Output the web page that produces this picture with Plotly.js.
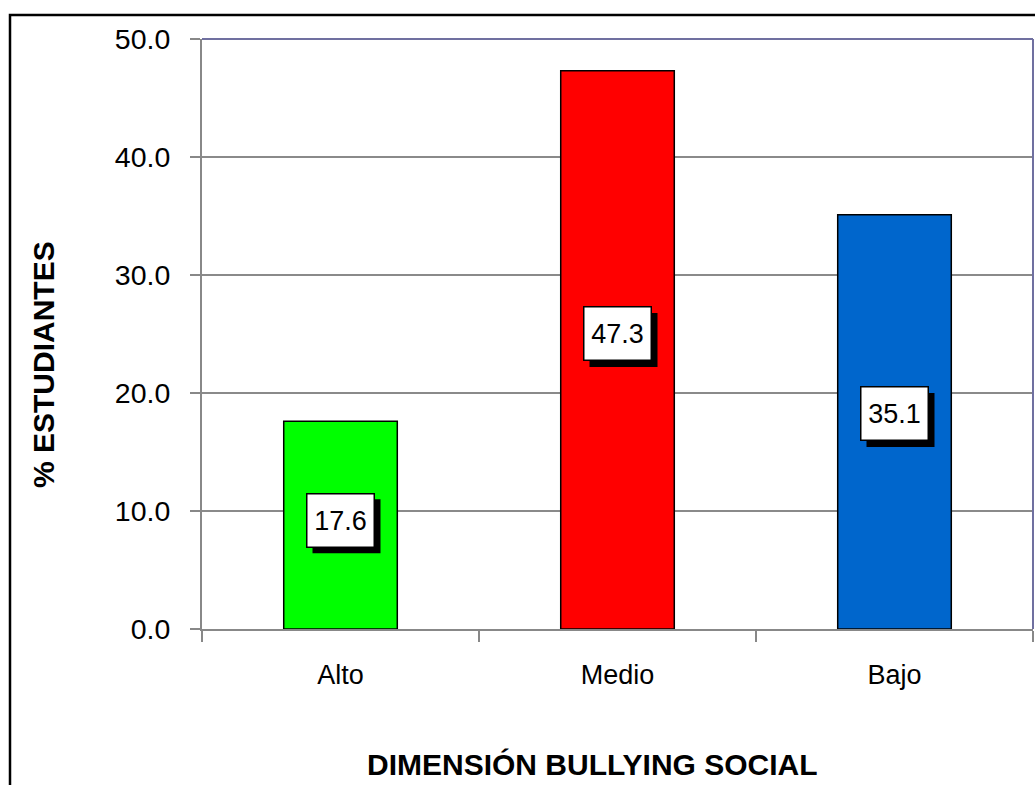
<!DOCTYPE html>
<html>
<head>
<meta charset="utf-8">
<script src="https://cdn.plot.ly/plotly-3.0.1.min.js"></script>
<style>html,body{margin:0;padding:0;background:#fff;}#chart{width:1035px;height:785px;}</style>
</head>
<body>
<div id="chart"></div>
<script>
// Data
const categories = ['Alto', 'Medio', 'Bajo'];
const values = [17.6, 47.3, 35.1];
const barColors = ['#00ff00', '#ff0000', '#0066cc'];
const yTickVals = [0, 10, 20, 30, 40, 50];
const yTitle = '% ESTUDIANTES';
const xTitle = 'DIMENSIÓN BULLYING SOCIAL';

// Layout geometry (style)
const W = 1035, H = 785;
const M = {l: 202, r: 2, t: 39, b: 156};
const pw = W - M.l - M.r, ph = H - M.t - M.b;
const px2x = p => (p - M.l) / pw;
const py2y = p => (H - M.b - p) / ph;
const font = 'Liberation Sans, Arial, sans-serif';
const labelShift = [5, 16, 8];
const boxW = 54, boxH = 40, boxPad = 6, shadowOff = 6;

const trace = {
  type: 'bar',
  x: categories,
  y: values,
  marker: {color: barColors, line: {color: '#000', width: 1.5}},
  hoverinfo: 'none'
};

const annotations = [];
const shapes = [
  {type: 'line', xref: 'paper', yref: 'paper', x0: 0, x1: 1, y0: 1, y1: 1,
   line: {color: '#7070a0', width: 2}, layer: 'above'},
  {type: 'line', xref: 'paper', yref: 'paper', x0: 1, x1: 1, y0: 0, y1: 1,
   line: {color: '#7070a0', width: 2}, layer: 'above'},
  {type: 'rect', xref: 'paper', yref: 'paper',
   x0: px2x(10), x1: px2x(W + 20), y0: py2y(H + 20), y1: py2y(15),
   line: {color: '#000', width: 2.5}, layer: 'below'}
];
const halfW = boxW / 2 + boxPad + 1, halfH = boxH / 2 + boxPad + 1;
values.forEach((v, i) => {
  // drop shadow behind the label box
  shapes.push({
    type: 'rect', xref: 'x', yref: 'y',
    xsizemode: 'pixel', ysizemode: 'pixel',
    xanchor: i, yanchor: v / 2,
    x0: -halfW + shadowOff, x1: halfW + shadowOff,
    y0: labelShift[i] - halfH - shadowOff, y1: labelShift[i] + halfH - shadowOff,
    fillcolor: '#000', line: {width: 0}, layer: 'above'
  });
  annotations.push({
    x: categories[i], y: v / 2, xref: 'x', yref: 'y',
    text: v.toFixed(1), showarrow: false,
    font: {family: font, size: 27, color: '#000'},
    width: boxW, height: boxH,
    borderpad: boxPad, borderwidth: 1.5,
    bgcolor: '#fff', bordercolor: '#000', yshift: labelShift[i]
  });
});
annotations.push({
  xref: 'paper', yref: 'paper', x: px2x(44), y: py2y(365),
  xanchor: 'center', yanchor: 'middle',
  text: '<b>' + yTitle + '</b>', textangle: -90, showarrow: false,
  font: {family: font, size: 30, color: '#000'}
});
annotations.push({
  xref: 'paper', yref: 'paper', x: px2x(592), y: py2y(764),
  xanchor: 'center', yanchor: 'middle',
  text: '<b>' + xTitle + '</b>', showarrow: false,
  font: {family: font, size: 30, color: '#000'}
});

const layout = {
  width: W, height: H,
  margin: M,
  paper_bgcolor: '#fff', plot_bgcolor: '#fff',
  showlegend: false,
  bargap: 0.59,
  font: {family: font, color: '#000'},
  xaxis: {
    type: 'category',
    tickson: 'boundaries',
    ticks: 'outside', ticklen: 11, tickwidth: 2, tickcolor: '#888',
    showline: true, linecolor: '#888', linewidth: 2,
    showgrid: false,
    tickfont: {family: font, size: 27, color: '#000'},
    ticklabelstandoff: 21,
    fixedrange: true
  },
  yaxis: {
    range: [0, 50], tickvals: yTickVals, tickformat: '.1f',
    ticks: 'outside', ticklen: 10, tickwidth: 2, tickcolor: '#888',
    showline: true, linecolor: '#888', linewidth: 2,
    showgrid: true, gridcolor: '#8a8a8a', gridwidth: 1.5,
    zeroline: false,
    tickfont: {family: font, size: 28.5, color: '#000'},
    ticklabelstandoff: 14,
    fixedrange: true
  },
  shapes: shapes,
  annotations: annotations
};

Plotly.newPlot('chart', [trace], layout, {staticPlot: true, displayModeBar: false});
</script>
</body>
</html>
